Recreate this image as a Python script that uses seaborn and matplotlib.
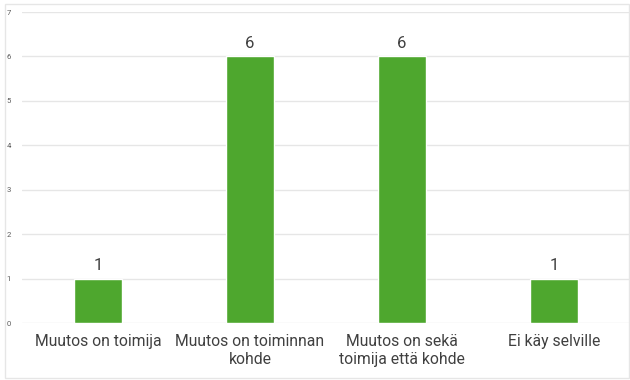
import matplotlib
matplotlib.use("Agg")
import matplotlib.pyplot as plt
import seaborn as sns
import pandas as pd

categories = ["Muutos on toimija", "Muutos on toiminnan\nkohde", "Muutos on sekä\ntoimija että kohde", "Ei käy selville"]
values = [1, 6, 6, 1]
yticks = [0, 1, 2, 3, 4, 5, 6, 7]

sns.set_theme(style="white")
plt.rcParams['font.family'] = ['Roboto', 'DejaVu Sans']

df = pd.DataFrame({"cat": categories, "val": values})

fig = plt.figure(figsize=(6.3, 3.8), dpi=100)
fig.patches.append(plt.Rectangle((0.008, 0.005), 0.99, 0.985, transform=fig.transFigure,
                                 fill=False, edgecolor="#e6e6e6", linewidth=1))
ax = fig.add_axes([22/630, 57/380, 608/630, 311/380])
sns.barplot(data=df, x="cat", y="val", color="#4EA72E", saturation=1, width=0.31, ax=ax, zorder=3)
ax.set_ylim(0, 7)
ax.set_xlim(-0.5, 3.5)
ax.set_yticks(yticks)
ax.set_yticklabels([str(t) for t in yticks], fontsize=5.5, color="#595959")
ax.tick_params(axis="y", length=0, pad=8)
ax.tick_params(axis="x", length=0, pad=8)
ax.set_xticks(range(len(categories)))
ax.set_xticklabels(categories, fontsize=11.3, color="#404040", linespacing=1.2)
ax.yaxis.grid(True, color="#e6e6e6", linewidth=1, zorder=0)
ax.set_axisbelow(True)
for s in ax.spines.values():
    s.set_visible(False)
ax.set_xlabel("")
ax.set_ylabel("")
for c in ax.containers:
    ax.bar_label(c, labels=[str(v) for v in values], fontsize=12, color="#404040", padding=4)
fig.savefig("out.png", dpi=100)
